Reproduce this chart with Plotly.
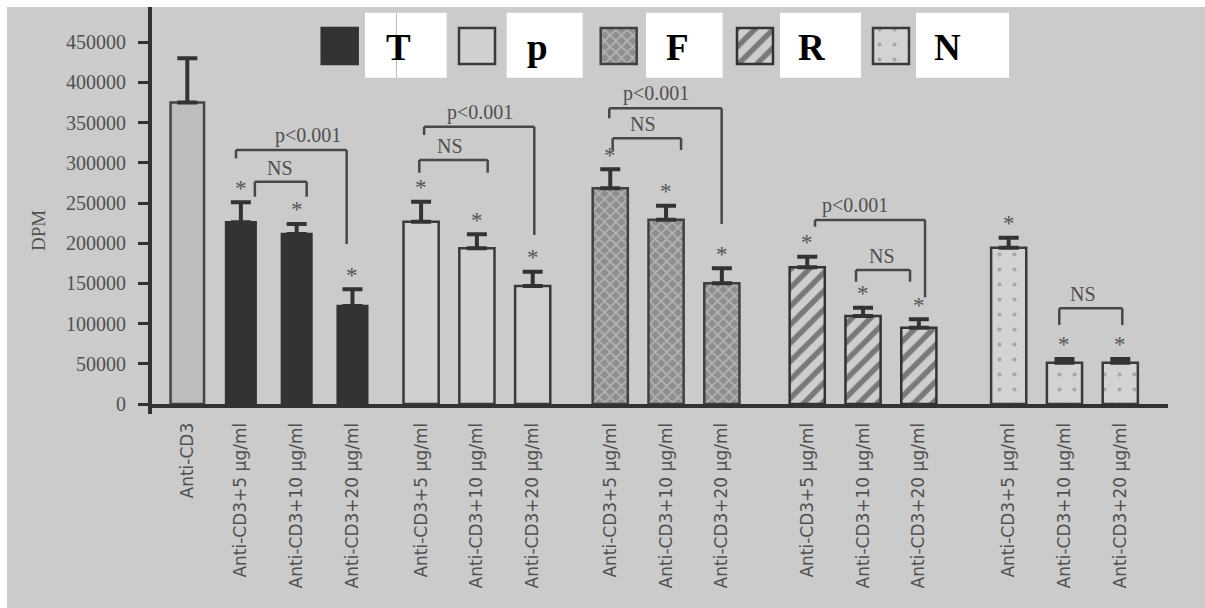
import plotly.graph_objects as go

# ---------------- data ----------------
control_label = ["Anti-CD3"]
conc_labels = ["Anti-CD3+5 μg/ml", "Anti-CD3+10 μg/ml", "Anti-CD3+20 μg/ml"]
group_names = ["T", "p", "F", "R", "N"]

control_mean = [375000]
control_err = [55000]

T_mean = [226000, 211500, 122000]
T_err = [25000, 12500, 20800]
p_mean = [226700, 193700, 146800]
p_err = [25000, 17400, 17800]
F_mean = [268300, 229300, 150100]
F_err = [23600, 17200, 18700]
R_mean = [170000, 109500, 94900]
R_err = [13200, 10300, 10400]
N_mean = [194400, 51400, 51400]
N_err = [12400, 4600, 4600]

ytick_vals = [0, 50000, 100000, 150000, 200000, 250000, 300000, 350000, 400000, 450000]
ytick_text = [str(v) for v in ytick_vals]

# significance brackets: group index (0..4 -> T,p,F,R,N), from bar, to bar
br_group = [0, 0, 1, 1, 2, 2, 3, 3, 4]
br_from = [0, 0, 0, 0, 0, 0, 0, 1, 1]
br_to = [2, 1, 2, 1, 2, 1, 2, 2, 2]
br_text = ["p<0.001", "NS", "p<0.001", "NS", "p<0.001", "NS", "p<0.001", "NS", "NS"]
br_top = [315900, 276500, 344900, 303500, 367800, 330500, 228900, 166700, 119000]
br_left_end = [305600, 257800, 334600, 287700, 355400, 315900, 220500, 152100, 98300]
br_right_end = [199000, 257800, 210200, 287700, 223900, 315900, 132700, 152100, 98300]

# ---------------- layout constants ----------------
W, H = 1205, 608
L_M, R_M, T_M, B_M = 152, 37, 7, 204
PW, PH = W - L_M - R_M, H - T_M - B_M
UNIT_PX = 55.8                      # px per x unit
X0_PX = 187.3                       # page x of the control bar
group_start = [0.96, 4.19, 7.58, 11.11, 14.72]
control_pos = [0.0]
x_range = [(L_M - X0_PX) / UNIT_PX, (W - R_M - X0_PX) / UNIT_PX]
y_top = PH / 40.2 * 50000
y_range = [0, y_top]

# bracket leg / text offsets (px)
br_dx_left = [-4.9, 14, 3, -1.8, -1, 2.4, 7.8, -7, -5.2]
br_dx_right = [-5.8, 10, 1.6, 10.8, -0.2, 15, 6.2, -8.8, 2]
br_text_dx = [17, -1, 1, -4, -9, -4, -15, -1, -7.5]

BG = "#cbcbcb"
INK = "#333333"
TXT = "#505050"
SERIF = "Liberation Serif, Times New Roman, serif"
SANS = "DejaVu Sans, sans-serif"

means = [T_mean, p_mean, F_mean, R_mean, N_mean]
errs = [T_err, p_err, F_err, R_err, N_err]
positions = [[s + k for k in range(3)] for s in group_start]

styles = [
    dict(color="#333333", line=dict(color=INK, width=2.5)),
    dict(color="#d0d0d0", line=dict(color="#3a3a3a", width=2.5)),
    dict(color="#9a9a9a", line=dict(color="#404040", width=2.5),
         pattern=dict(shape="x", fgcolor="#dcdcdc", bgcolor="#8e8e8e", size=8, solidity=0.35)),
    dict(color="#cccccc", line=dict(color=INK, width=2.5),
         pattern=dict(shape="/", fgcolor="#242424", bgcolor="#cecece", size=13, solidity=0.42)),
    dict(color="#d2d2d2", line=dict(color="#3a3a3a", width=2.5),
         pattern=dict(shape=".", fgcolor="#7a7a7a", bgcolor="#d3d3d3", size=15, solidity=0.06)),
]
widths = [0.53, 0.63, 0.63, 0.63, 0.63]

fig = go.Figure()

fig.add_trace(go.Bar(
    x=control_pos, y=control_mean, width=0.6,
    marker=dict(color="#bdbdbd", line=dict(color="#444444", width=2.5)),
    error_y=dict(type="data", array=control_err, arrayminus=[0], symmetric=False,
                 color=INK, thickness=4, width=10),
    showlegend=False, hoverinfo="skip"))

for g in range(5):
    fig.add_trace(go.Bar(
        x=positions[g], y=means[g], width=widths[g], marker=styles[g],
        error_y=dict(type="data", array=errs[g], arrayminus=[0, 0, 0], symmetric=False,
                     color=INK, thickness=4, width=10),
        name=group_names[g], showlegend=False, hoverinfo="skip"))

annotations = []
shapes = []

# asterisks above every treated bar
for g in range(5):
    for k in range(3):
        annotations.append(dict(
            x=positions[g][k], y=means[g][k] + errs[g][k], xref="x", yref="y",
            text="*", showarrow=False, yanchor="middle", yshift=14,
            font=dict(family=SERIF, size=23, color="#555555")))

# brackets
LINE = dict(color="#474747", width=2.5)
for i in range(len(br_group)):
    g = br_group[i]
    xl = positions[g][br_from[i]] + br_dx_left[i] / UNIT_PX
    xr = positions[g][br_to[i]] + br_dx_right[i] / UNIT_PX
    shapes.append(dict(type="line", xref="x", yref="y", x0=xl, x1=xr,
                       y0=br_top[i], y1=br_top[i], line=LINE))
    shapes.append(dict(type="line", xref="x", yref="y", x0=xl, x1=xl,
                       y0=br_top[i], y1=br_left_end[i], line=LINE))
    shapes.append(dict(type="line", xref="x", yref="y", x0=xr, x1=xr,
                       y0=br_top[i], y1=br_right_end[i], line=LINE))
    annotations.append(dict(
        x=(xl + xr) / 2, y=br_top[i], xref="x", yref="y", text=br_text[i],
        showarrow=False, yanchor="bottom", yshift=1, xshift=br_text_dx[i],
        font=dict(family=SERIF, size=20, color=TXT)))

# y axis extension below x axis
shapes.append(dict(type="line", xref="paper", yref="paper",
                   x0=-2 / PW, x1=-2 / PW, y0=0, y1=-10 / PH,
                   line=dict(color=INK, width=4)))

# white strips (top & left border of the picture)
shapes.append(dict(type="rect", xref="paper", yref="paper", layer="above",
                   x0=-0.3, x1=1.2, y0=1, y1=(PH + T_M + 1) / PH,
                   fillcolor="white", line=dict(width=0)))
shapes.append(dict(type="rect", xref="paper", yref="paper", layer="above",
                   x0=-(L_M + 1) / PW, x1=-(L_M - 7) / PW, y0=-1, y1=1.1,
                   fillcolor="white", line=dict(width=0)))

# ---------- legend drawn on an overlay axis measured in page pixels ----------
leg_cx = [339.7, 477, 618.7, 755, 891]
leg_box_x0 = [365, 506.7, 646, 780, 916]
leg_box_x1 = [446.7, 582.7, 722.7, 861, 1009]
leg_text_x = [398, 537, 677, 812, 947]
SW = 36
sw_top, sw_bot = 28, 64
box_top, box_bot = 12.7, 77.7

def py(v):
    return (H - B_M) - v

for g in range(5):
    fig.add_trace(go.Bar(
        x=[leg_cx[g]], y=[SW], base=[py(sw_bot)], width=SW, marker=styles[g],
        xaxis="x2", yaxis="y2", showlegend=False, hoverinfo="skip"))
    shapes.append(dict(type="rect", xref="x2", yref="y2", layer="above",
                       x0=leg_box_x0[g], x1=leg_box_x1[g], y0=py(box_bot), y1=py(box_top),
                       fillcolor="white", line=dict(width=0)))
    annotations.append(dict(
        x=leg_text_x[g], y=py(47), xref="x2", yref="y2", text="<b>%s</b>" % group_names[g],
        showarrow=False, xanchor="center", yanchor="middle",
        font=dict(family=SERIF, size=37, color="black")))

shapes.append(dict(type="line", xref="x2", yref="y2", layer="above",
                   x0=396.5, x1=396.5, y0=py(box_bot), y1=py(box_top),
                   line=dict(color="#bdbdbd", width=1)))

# DPM title
annotations.append(dict(
    x=(38 - L_M) / PW, y=(H - B_M - 231) / PH, xref="paper", yref="paper",
    text="DPM", textangle=-90, showarrow=False, xanchor="center", yanchor="middle",
    font=dict(family=SERIF, size=19, color=TXT)))

tick_pos = control_pos + [p for grp in positions for p in grp]
tick_text = control_label + conc_labels * 5

fig.update_layout(
    width=W, height=H,
    margin=dict(l=L_M, r=R_M, t=T_M, b=B_M, pad=0),
    paper_bgcolor=BG, plot_bgcolor=BG,
    barmode="overlay",
    showlegend=False,
    xaxis=dict(range=x_range, tickmode="array", tickvals=tick_pos, ticktext=tick_text,
               tickangle=-90, ticks="", showline=True, linewidth=4, linecolor=INK,
               showgrid=False, zeroline=False, ticklabelstandoff=8,
               tickfont=dict(family=SANS, size=17, color=TXT)),
    yaxis=dict(range=y_range, tickmode="array", tickvals=ytick_vals, ticktext=ytick_text,
               ticks="outside", ticklen=10, tickwidth=3, tickcolor=INK,
               showline=True, linewidth=4, linecolor=INK, showgrid=False, zeroline=False,
               ticklabelstandoff=8,
               tickfont=dict(family=SERIF, size=20, color=TXT)),
    xaxis2=dict(overlaying="x", range=[L_M, W - R_M], visible=False),
    yaxis2=dict(overlaying="y", range=[0, PH], visible=False),
    shapes=shapes, annotations=annotations,
)

fig.write_html("out.html", config={"displayModeBar": False},
               post_script="document.body.style.margin='0';document.body.style.overflow='hidden';")
